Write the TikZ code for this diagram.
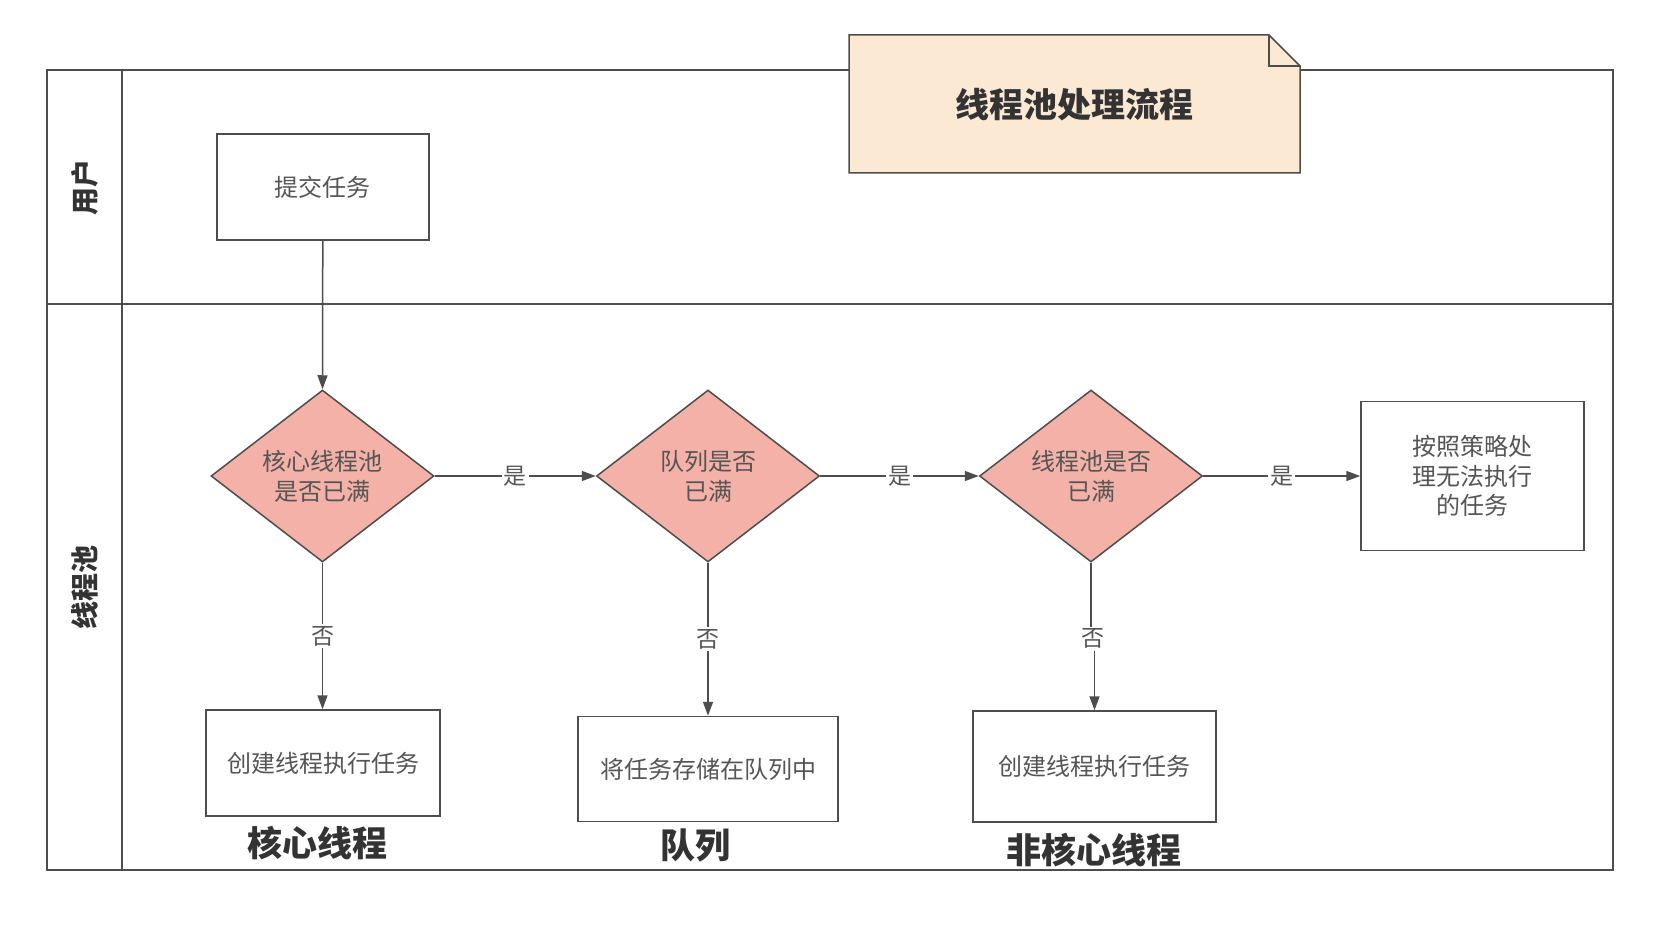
\documentclass[tikz,border=0pt]{standalone}
\usepackage{fontspec}
\setmainfont{Noto Sans CJK SC}
\usetikzlibrary{shapes.geometric,arrows.meta,calc}
\definecolor{linec}{HTML}{4D4D4D}
\definecolor{txtc}{HTML}{555555}
\definecolor{boldc}{HTML}{333333}
\definecolor{dfill}{HTML}{F4B1A7}
\definecolor{nfill}{HTML}{FCE9D4}
\begin{document}
\begin{tikzpicture}[x=1pt,y=-1pt,
  procbox/.style={draw=linec,line width=1.5pt,fill=white,inner sep=0pt,text=txtc,
    font=\fontsize{24}{29.7}\selectfont,align=center},
  decision/.style={diamond,aspect=1.3,draw=linec,line width=1.5pt,fill=dfill,inner sep=0pt,
    minimum width=223pt,minimum height=172pt,text=txtc,font=\fontsize{24}{29.7}\selectfont,align=center},
  arr/.style={draw=linec,line width=1.5pt,-{Triangle[length=14pt,width=10pt]}},
  elab/.style={fill=white,inner sep=2pt,text=txtc,font=\fontsize{23}{23}\selectfont},
  biglab/.style={text=boldc,font=\bfseries\fontsize{35}{35}\selectfont},
  lanelab/.style={rotate=90,text=boldc,font=\bfseries\fontsize{28}{28}\selectfont},
  frame/.style={draw=linec,line width=1.5pt}]
\useasboundingbox (0,0) rectangle (1676,928);
\fill[white] (0,0) rectangle (1676,928);
% swimlane frame
\draw[frame] (47,70) rectangle (1613,870);
\draw[frame] (122,70) -- (122,870);
\draw[frame] (47,304) -- (1613,304);
\node[lanelab] (lane1) at (84.5,187) {用户};
\node[lanelab] (lane2) at (84.5,587) {线程池};
% note
\draw[frame,fill=nfill] (849,35) -- (1269,35) -- (1300,66) -- (1300,173) -- (849,173) -- cycle;
\draw[frame] (1269,35) -- (1269,66) -- (1300,66);
\node[text=boldc,font=\bfseries\fontsize{34}{34}\selectfont] (title) at (1074,105) {线程池处理流程};
% nodes
\node[procbox,minimum width=212pt,minimum height=106pt] (submit) at (322.8,187) {提交任务};
\node[decision] (d1) at (322.5,476) {核心线程池\\是否已满};
\node[decision] (d2) at (708,476) {队列是否\\已满};
\node[decision] (d3) at (1091,476) {线程池是否\\已满};
\node[procbox,minimum width=223pt,minimum height=149pt] (b4) at (1472.5,476) {按照策略处\\理无法执行\\的任务};
\node[procbox,minimum width=234pt,minimum height=106pt] (b1) at (323,763) {创建线程执行任务};
\node[procbox,minimum width=260pt,minimum height=105pt] (b2) at (708,769) {将任务存储在队列中};
\node[procbox,minimum width=243pt,minimum height=111pt] (b3) at (1094.5,766.5) {创建线程执行任务};
\node[biglab] (l1) at (317.5,843) {核心线程};
\node[biglab] (l2) at (695,845) {队列};
\node[biglab] (l3) at (1093.5,850) {非核心线程};
% connectors
\draw[arr] (submit.south) -- (d1.north);
\draw[arr] (d1.east) -- node[elab] {是} (d2.west);
\draw[arr] (d2.east) -- node[elab] {是} (d3.west);
\draw[arr] (d3.east) -- node[elab] {是} (b4.west);
\draw[arr] (d1.south) -- node[elab] {否} (d1.south |- b1.north);
\draw[arr] (d2.south) -- node[elab] {否} (d2.south |- b2.north);
\coordinate (j3) at ($(d3.south)+(0,76)$);
\draw[arr] (d3.south) -- (j3) -| (b3.north);
\node[elab] (n3) at ($(j3)+(1.7,0)$) {否};
\end{tikzpicture}
\end{document}
